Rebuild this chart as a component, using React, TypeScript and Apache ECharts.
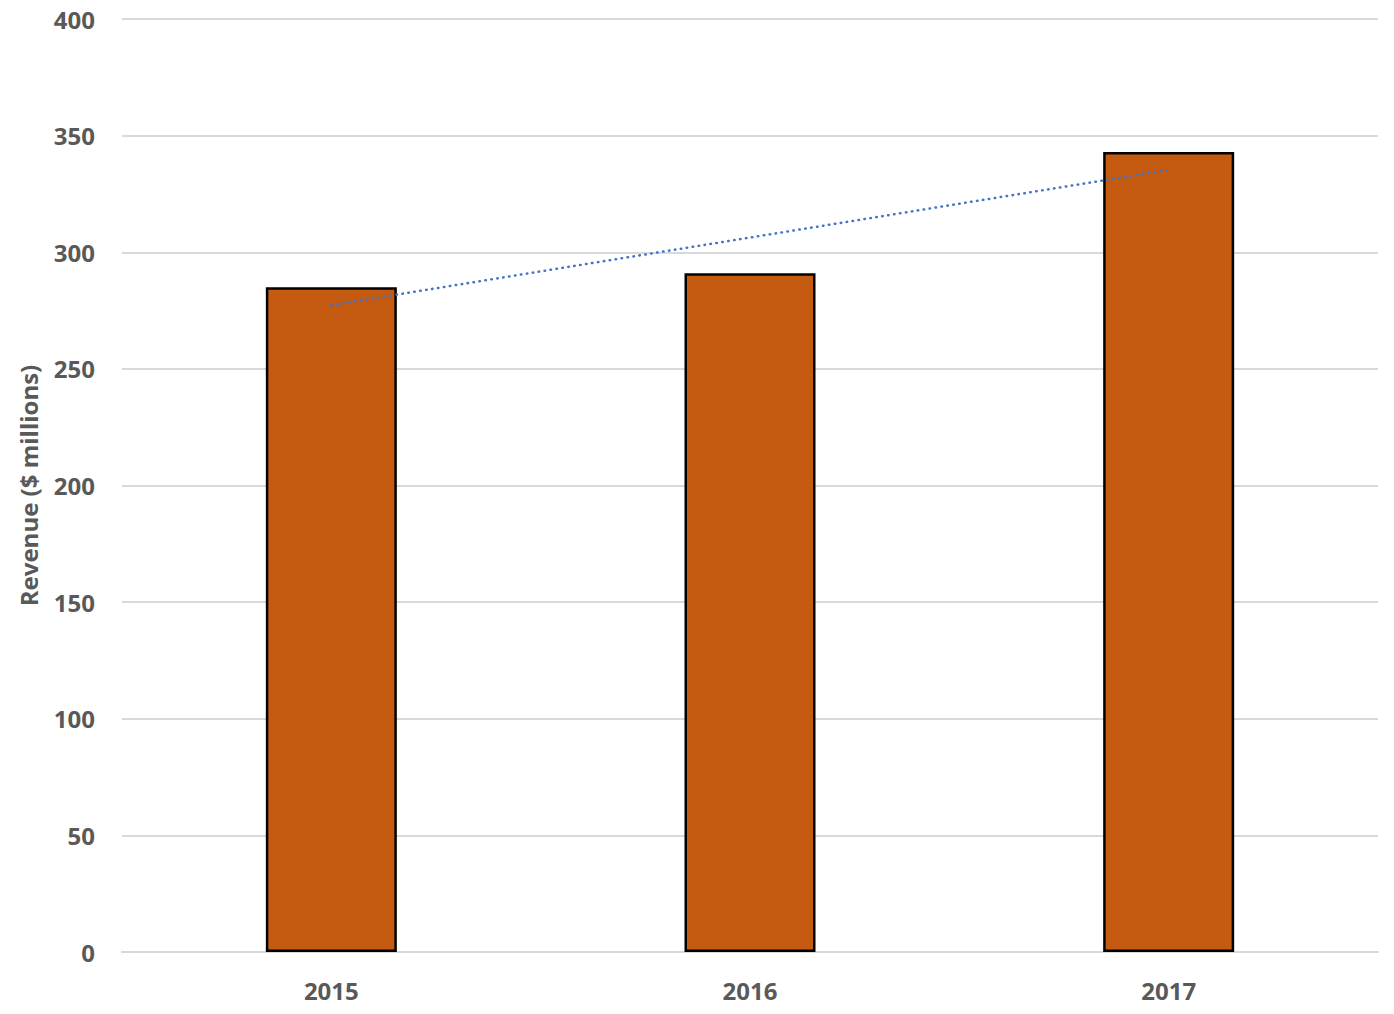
import React, { useEffect, useRef } from "react";
import * as echarts from "echarts";

const categories = ["2015", "2016", "2017"];
const revenue = [285, 291, 343];
const trendValues = [277.3, 306.3, 335.3];
const yTicks = { min: 0, max: 400, interval: 50 };
const yAxisTitle = "Revenue ($ millions)";

export default function App() {
  const ref = useRef<HTMLDivElement>(null);
  useEffect(() => {
    if (!ref.current) return;
    const chart = echarts.init(ref.current, null, { renderer: "svg" });
    const font = "'Open Sans', sans-serif";
    chart.setOption({
      animation: false,
      backgroundColor: "#ffffff",
      grid: { left: 122, right: 16, top: 19, bottom: 62 },
      xAxis: {
        type: "category",
        data: categories,
        axisLine: { show: true, lineStyle: { color: "#D9D9D9", width: 2 } },
        axisTick: { show: false },
        axisLabel: { color: "#595959", fontFamily: font, fontWeight: "bold", fontSize: 24, margin: 26 },
      },
      yAxis: {
        type: "value",
        min: yTicks.min,
        max: yTicks.max,
        interval: yTicks.interval,
        name: yAxisTitle,
        nameLocation: "middle",
        nameGap: 82,
        nameTextStyle: { color: "#595959", fontFamily: font, fontWeight: "bold", fontSize: 24 },
        axisLine: { show: false },
        axisTick: { show: false },
        axisLabel: { color: "#595959", fontFamily: font, fontWeight: "bold", fontSize: 24, margin: 27 },
        splitLine: { lineStyle: { color: "#D9D9D9", width: 2 } },
      },
      series: [
        {
          type: "bar",
          data: revenue,
          barWidth: 131,
          itemStyle: { color: "#C55A11", borderColor: "#000000", borderWidth: 2.5 },
        },
        {
          type: "line",
          data: trendValues,
          symbol: "none",
          lineStyle: { color: "#4472C4", width: 2.5, type: [0.5, 5.5], cap: "round" },
          z: 5,
        },
      ],
    });
    return () => chart.dispose();
  }, []);
  return (
    <div
      ref={ref}
      style={{ position: "fixed", left: 0, top: 0, width: 1394, height: 1014 }}
    />
  );
}
